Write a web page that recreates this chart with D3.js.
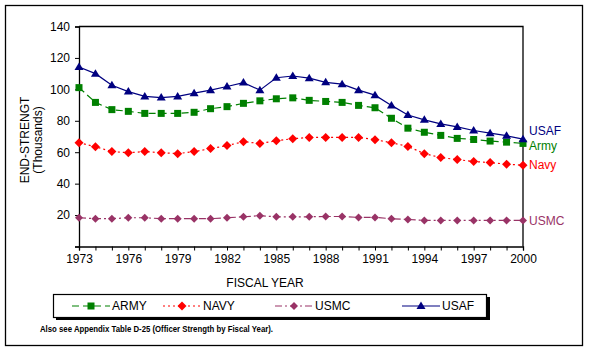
<!DOCTYPE html>
<html>
<head>
<meta charset="utf-8">
<script src="https://cdn.jsdelivr.net/npm/d3@7"></script>
<style>
  body { margin: 0; background: #fff; }
  svg { display: block; font-family: "Liberation Sans", Arial, sans-serif; }
</style>
</head>
<body>
<div id="chart"></div>
<script>
const years = d3.range(1973, 2001);
const army = [101.1, 91.7, 87.1, 86.0, 84.7, 84.7, 84.7, 85.4, 87.7, 89.0, 91.1, 92.7, 94.0, 94.6,
    93.0, 92.3, 91.7, 89.8, 88.3, 81.6, 75.3, 72.7, 70.7, 68.8, 68.1, 67.1, 66.4, 65.6];
const navy = [66.0, 63.5, 60.4, 59.7, 60.4, 59.7, 59.1, 60.4, 62.3, 64.2, 66.7, 65.6, 67.3, 68.6,
    69.4, 69.4, 69.4, 69.4, 68.0, 66.0, 63.7, 59.1, 56.6, 55.3, 54.1, 53.4, 52.4, 51.7];
const usmc = [18.3, 17.7, 17.7, 18.3, 18.3, 17.7, 17.7, 17.7, 17.7, 18.3, 18.9, 19.6, 18.9, 18.9,
    18.9, 19.1, 19.1, 18.5, 18.5, 17.7, 17.2, 16.6, 16.6, 16.6, 16.6, 16.6, 16.6, 16.6];
const usaf = [114.2, 110.0, 102.6, 98.6, 95.5, 94.8, 95.5, 97.6, 99.5, 101.8, 104.3, 99.5, 107.4, 108.5,
    107.1, 104.5, 103.3, 99.5, 96.3, 89.8, 83.7, 80.6, 78.0, 76.1, 73.8, 72.1, 70.5, 68.3];
const yTicks = [20, 40, 60, 80, 100, 120, 140];
const xLabelYears = [1973, 1976, 1979, 1982, 1985, 1988, 1991, 1994, 1997, 2000];

const series = [
    { key: "ARMY", end: "Army", values: army, color: "#008000", dash: "7,4", shape: "square", endDy: 2 },
    { key: "NAVY", end: "Navy", values: navy, color: "#ff0000", dash: "2,3", shape: "diamond", endDy: 0 },
    { key: "USMC", end: "USMC", values: usmc, color: "#993366", dash: "7,3,2,3", shape: "diamondSmall", endDy: 0 },
    { key: "USAF", end: "USAF", values: usaf, color: "#000080", dash: null, shape: "triangle", endDy: -8 }
];

const W = 593, H = 351;
const svg = d3.select("#chart").append("svg").attr("width", W).attr("height", H);

// outer frame
svg.append("rect").attr("x", 5.5).attr("y", 5.5).attr("width", 577).attr("height", 340)
    .attr("fill", "none").attr("stroke", "#000").attr("stroke-width", 1.3);

const x = d3.scaleLinear().domain([1973, 2000]).range([79, 523]);
const y = d3.scaleLinear().domain([0, 140]).range([246.5, 26.5]);

// plot frame top/right
svg.append("path")
    .attr("d", `M${x(1973)},${y(140)}H${x(2000)}V${y(0)}`)
    .attr("fill", "none").attr("stroke", "#000").attr("stroke-width", 1.3);

// y axis
const yAxis = svg.append("g").attr("transform", `translate(${x(1973)},0)`)
    .call(d3.axisLeft(y).tickValues([0, ...yTicks]).tickSize(4).tickPadding(5)
        .tickFormat(d => d === 0 ? "" : d));
yAxis.select(".domain").attr("stroke", "#000").attr("stroke-width", 1.3);
yAxis.selectAll("text").style("font-size", "12px").attr("fill", "#000");

// x axis
const xAxis = svg.append("g").attr("transform", `translate(0,${y(0)})`)
    .call(d3.axisBottom(x).tickValues(years).tickSize(4).tickPadding(4)
        .tickFormat(d => xLabelYears.includes(d) ? d : ""));
xAxis.select(".domain").attr("stroke", "#000").attr("stroke-width", 1.3);
xAxis.selectAll("text").style("font-size", "12px").attr("fill", "#000");

// axis titles
svg.append("text").attr("transform", "translate(29,140) rotate(-90)")
    .attr("text-anchor", "middle").style("font-size", "12px").text("END-STRENGT");
svg.append("text").attr("transform", "translate(42,140) rotate(-90)")
    .attr("text-anchor", "middle").style("font-size", "12px").text("(Thousands)");
svg.append("text").attr("x", 265).attr("y", 287)
    .attr("text-anchor", "middle").style("font-size", "12px").text("FISCAL YEAR");

function marker(g, shape, color) {
    if (shape === "square")
        g.append("rect").attr("x", -3.5).attr("y", -3.5).attr("width", 7).attr("height", 7).attr("fill", color);
    else if (shape === "diamond")
        g.append("path").attr("d", "M0,-4.5L4.5,0L0,4.5L-4.5,0Z").attr("fill", color);
    else if (shape === "diamondSmall")
        g.append("path").attr("d", "M0,-4L4,0L0,4L-4,0Z").attr("fill", color);
    else
        g.append("path").attr("d", "M0,-4.5L4.5,3L-4.5,3Z").attr("fill", color);
}

const line = d3.line().x((d, i) => x(years[i])).y(d => y(d));

series.forEach(s => {
    svg.append("path").datum(s.values)
        .attr("d", line)
        .attr("fill", "none")
        .attr("stroke", s.color)
        .attr("stroke-width", 1.2)
        .attr("stroke-dasharray", s.dash);
    svg.append("g").selectAll("g")
        .data(s.values)
        .join("g")
        .attr("transform", (d, i) => `translate(${x(years[i])},${y(d)})`)
        .each(function () { marker(d3.select(this), s.shape, s.color); });
    svg.append("text")
        .attr("x", x(2000) + 6)
        .attr("y", y(s.values[s.values.length - 1]) + s.endDy)
        .attr("dy", "0.35em")
        .attr("fill", s.color)
        .style("font-size", "12px")
        .text(s.end);
});

// legend
const legend = svg.append("g");
legend.append("rect").attr("x", 56).attr("y", 297).attr("width", 434).attr("height", 23).attr("fill", "#000");
legend.append("rect").attr("x", 53.5).attr("y", 294.5).attr("width", 433).attr("height", 23)
    .attr("fill", "#fff").attr("stroke", "#000").attr("stroke-width", 1.2);

const legendX = [72, 163, 275, 402];
series.forEach((s, i) => {
    const lx = legendX[i], ly = 306;
    legend.append("line").attr("x1", lx).attr("x2", lx + 38).attr("y1", ly).attr("y2", ly)
        .attr("stroke", s.color).attr("stroke-width", 1.2).attr("stroke-dasharray", s.dash);
    const m = legend.append("g").attr("transform", `translate(${lx + 19},${ly})`);
    marker(m, s.shape, s.color);
    legend.append("text").attr("x", lx + 40).attr("y", ly).attr("dy", "0.35em")
        .style("font-size", "12px").text(s.key);
});

svg.append("text").attr("x", 40).attr("y", 332)
    .style("font-size", "8.5px").style("font-weight", "bold")
    .attr("textLength", 233).attr("lengthAdjust", "spacingAndGlyphs")
    .text("Also see Appendix Table D-25 (Officer Strength by Fiscal Year).");
</script>
</body>
</html>
